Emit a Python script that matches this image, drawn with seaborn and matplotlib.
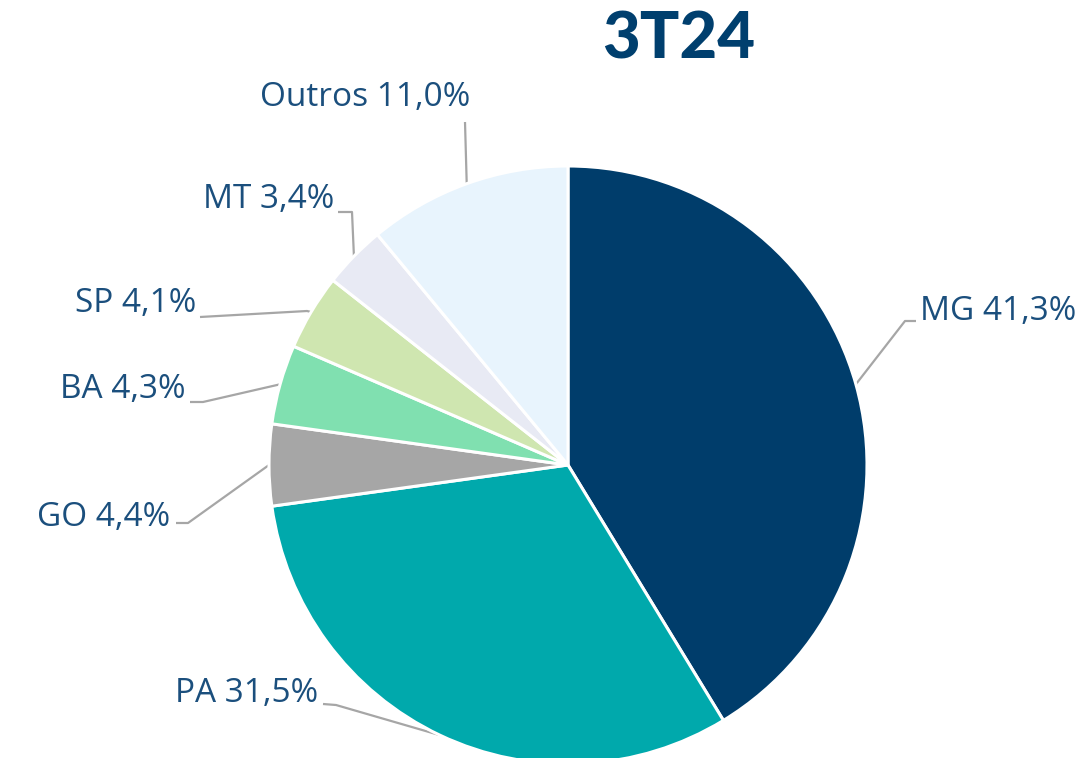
import numpy as np
import seaborn as sns
import matplotlib.pyplot as plt

# data
states = ['MG', 'PA', 'GO', 'BA', 'SP', 'MT', 'Outros']
shares = [41.3, 31.5, 4.4, 4.3, 4.1, 3.4, 11.0]
colors = ['#003d6b', '#00a9ac', '#a6a6a6', '#80e0b0', '#cfe6b0', '#e8eaf4', '#e8f4fd']
title = '3T24'

sns.set_theme(style='white')
plt.rcParams['font.family'] = ['Open Sans', 'DejaVu Sans']

W, H = 1089, 758
fig = plt.figure(figsize=(W / 100, H / 100), dpi=100)
ax = fig.add_axes([0, 0, 1, 1])

cx, cy, r = 568, H - 465, 299
wedges, _ = ax.pie(shares, colors=sns.color_palette(colors), startangle=90, counterclock=False,
                   center=(cx, cy), radius=r, frame=True,
                   wedgeprops=dict(edgecolor='white', linewidth=2.2))
ax.set_xlim(0, W)
ax.set_ylim(0, H)
ax.axis('off')

# label layout (pixel coords, y from top): elbow, leader end, text anchor, alignment
layout = {
    'MG': ((905, 321), (916, 321), (920, 312), 'left'),
    'PA': ((336, 705), (323, 704), (318, 693), 'right'),
    'GO': ((188, 523), (176, 523), (170, 518), 'right'),
    'BA': ((203, 402), (190, 402), (186, 390), 'right'),
    'SP': ((307, 311), (200, 317), (196, 303), 'right'),
    'MT': ((352, 212), (338, 212), (334, 200), 'right'),
    'Outros': ((465, 122), (465, 122), (365, 98), 'center'),
}

for w, name, val in zip(wedges, states, shares):
    ang = np.deg2rad((w.theta1 + w.theta2) / 2)
    px, py = cx + r * np.cos(ang), cy + r * np.sin(ang)
    (ex, ey), (tx, ty), (lx, ly), ha = layout[name]
    ax.plot([px, ex, tx], [py, H - ey, H - ty], color='#a6a6a6', lw=1.6,
            solid_capstyle='butt', zorder=0)
    label = f'{name} {val:.1f}%'.replace('.', ',')
    ax.text(lx, H - ly, label, ha=ha, va='center', fontsize=24, color='#1b4f7d')

ax.text(679, H - 40, title, ha='center', va='center', fontsize=47,
        fontweight='black', color='#003f6e', family=['Lato', 'DejaVu Sans'])

fig.savefig('out.png', dpi=100)
